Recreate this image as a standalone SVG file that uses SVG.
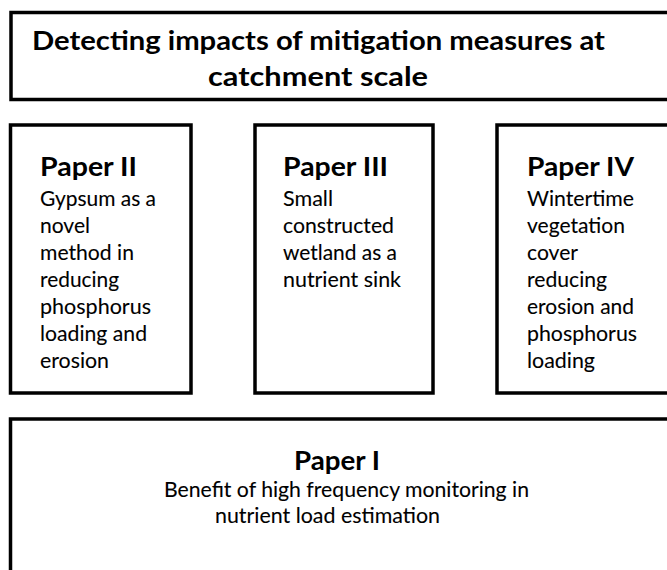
<svg xmlns="http://www.w3.org/2000/svg" width="667" height="570" viewBox="0 0 667 570">
<style>
.box{fill:#fff;stroke:#000;stroke-width:3.5}
.h{font-family:Lato,"Open Sans","Liberation Sans",sans-serif;font-weight:bold;font-size:26px;fill:#000}
.b{font-family:Lato,"Open Sans","Liberation Sans",sans-serif;font-size:21px;fill:#000;stroke:#000;stroke-width:0.1}
</style>
<rect width="667" height="570" fill="#fff"/>
<g id="title">
<rect class="box" x="11" y="12.5" width="680" height="87"/>
<text class="h" x="32" y="50" textLength="573" lengthAdjust="spacingAndGlyphs">Detecting impacts of mitigation measures at</text>
<text class="h" x="208" y="86" textLength="220" lengthAdjust="spacingAndGlyphs">catchment scale</text>
</g>
<g id="paper2">
<rect class="box" x="10.5" y="125" width="180.5" height="268"/>
<text class="h" x="40" y="176" textLength="97" lengthAdjust="spacingAndGlyphs">Paper II</text>
<text class="b" x="40" y="206" textLength="116" lengthAdjust="spacingAndGlyphs">Gypsum as a</text>
<text class="b" x="40" y="233" textLength="50" lengthAdjust="spacingAndGlyphs">novel</text>
<text class="b" x="40" y="260" textLength="94" lengthAdjust="spacingAndGlyphs">method in</text>
<text class="b" x="40" y="287" textLength="79" lengthAdjust="spacingAndGlyphs">reducing</text>
<text class="b" x="40" y="314" textLength="111" lengthAdjust="spacingAndGlyphs">phosphorus</text>
<text class="b" x="40" y="341" textLength="107" lengthAdjust="spacingAndGlyphs">loading and</text>
<text class="b" x="40" y="368" textLength="69" lengthAdjust="spacingAndGlyphs">erosion</text>
</g>
<g id="paper3">
<rect class="box" x="255" y="125" width="178" height="268"/>
<text class="h" x="283" y="176" textLength="105" lengthAdjust="spacingAndGlyphs">Paper III</text>
<text class="b" x="283" y="206" textLength="50" lengthAdjust="spacingAndGlyphs">Small</text>
<text class="b" x="283" y="233" textLength="111" lengthAdjust="spacingAndGlyphs">constructed</text>
<text class="b" x="283" y="260" textLength="114" lengthAdjust="spacingAndGlyphs">wetland as a</text>
<text class="b" x="283" y="287" textLength="118" lengthAdjust="spacingAndGlyphs">nutrient sink</text>
</g>
<g id="paper4">
<rect class="box" x="497" y="125" width="200" height="268"/>
<text class="h" x="527" y="176" textLength="107" lengthAdjust="spacingAndGlyphs">Paper IV</text>
<text class="b" x="527" y="206" textLength="107" lengthAdjust="spacingAndGlyphs">Wintertime</text>
<text class="b" x="527" y="233" textLength="98" lengthAdjust="spacingAndGlyphs">vegetation</text>
<text class="b" x="527" y="260" textLength="51" lengthAdjust="spacingAndGlyphs">cover</text>
<text class="b" x="527" y="287" textLength="80" lengthAdjust="spacingAndGlyphs">reducing</text>
<text class="b" x="527" y="314" textLength="107" lengthAdjust="spacingAndGlyphs">erosion and</text>
<text class="b" x="527" y="341" textLength="110" lengthAdjust="spacingAndGlyphs">phosphorus</text>
<text class="b" x="527" y="368" textLength="68" lengthAdjust="spacingAndGlyphs">loading</text>
</g>
<g id="paper1">
<rect class="box" x="10.5" y="419" width="690" height="200"/>
<text class="h" x="294" y="470" textLength="86" lengthAdjust="spacingAndGlyphs">Paper I</text>
<text class="b" x="164" y="497" textLength="365" lengthAdjust="spacingAndGlyphs">Benefit of high frequency monitoring in</text>
<text class="b" x="215" y="523" textLength="225" lengthAdjust="spacingAndGlyphs">nutrient load estimation</text>
</g>
<g id="connectors"/>
</svg>
